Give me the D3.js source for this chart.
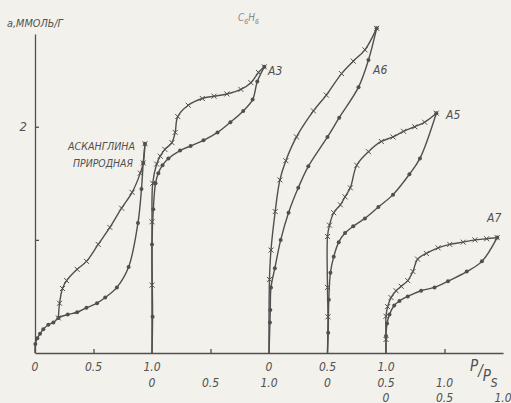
<!DOCTYPE html>
<html>
<head>
<meta charset="utf-8">
<script src="https://cdn.jsdelivr.net/npm/d3@7"></script>
<style>
  body { margin: 0; background: #f3f1ec; }
  svg text { font-family: "DejaVu Sans Condensed", "DejaVu Sans", sans-serif; font-style: italic; fill: #505050; }
</style>
</head>
<body>
<svg id="chart" width="511" height="403"></svg>
<script>
// benzene (C6H6) isotherms, a (mmol/g) vs p/ps
// each sample sits on its own p/ps axis, shifted along x
const samples = ['природная', 'A3', 'A6', 'A5', 'A7'];
const offsets = [0, 1, 2, 2.5, 3];
const tickRows = [0, 1, 0, 1, 2];
const xTickValues = [0, 0.5, 1];
const xTickText = ['0', '0.5', '1.0'];
const yTickValues = [1, 2];
const yTickText = ['', '2'];

// adsorption branch (dots)
const adsorption = [
  [[0, 0], [0.003, 0.08], [0.02, 0.13], [0.043, 0.17], [0.071, 0.21], [0.114, 0.25], [0.157, 0.27], [0.2, 0.31],
   [0.28, 0.34], [0.36, 0.36], [0.44, 0.40], [0.53, 0.44], [0.60, 0.49], [0.70, 0.58], [0.80, 0.76], [0.88, 1.15],
   [0.91, 1.45], [0.925, 1.68], [0.94, 1.85]],
  [[0, 0], [0.005, 0.32], [0.0, 0.96], [0.011, 1.27], [0.03, 1.50], [0.054, 1.59], [0.09, 1.66], [0.14, 1.72],
   [0.24, 1.79], [0.33, 1.83], [0.44, 1.88], [0.56, 1.95], [0.67, 2.04], [0.78, 2.14], [0.86, 2.24], [0.90, 2.40],
   [0.96, 2.53]],
  [[0, 0], [0.008, 0.27], [0.011, 0.38], [0.017, 0.58], [0.05, 0.75], [0.10, 1.0], [0.167, 1.24], [0.25, 1.46],
   [0.336, 1.65], [0.50, 1.91], [0.60, 2.08], [0.765, 2.35], [0.85, 2.59], [0.92, 2.87]],
  [[0, 0], [0.006, 0.18], [0.011, 0.47], [0.025, 0.71], [0.053, 0.85], [0.096, 0.98], [0.15, 1.06], [0.22, 1.12],
   [0.32, 1.19], [0.435, 1.29], [0.56, 1.40], [0.70, 1.58], [0.79, 1.72], [0.93, 2.12]],
  [[0, 0], [0, 0.15], [0.009, 0.26], [0.03, 0.34], [0.07, 0.42], [0.115, 0.46], [0.186, 0.50], [0.30, 0.55],
   [0.415, 0.58], [0.53, 0.635], [0.69, 0.72], [0.82, 0.81], [0.95, 1.02]]
];

// desorption branch (crosses)
const desorption = [
  [[0.94, 1.85], [0.925, 1.68], [0.90, 1.59], [0.83, 1.42], [0.74, 1.28], [0.64, 1.11], [0.54, 0.96], [0.44, 0.81],
   [0.36, 0.74], [0.27, 0.64], [0.235, 0.57], [0.21, 0.44], [0.2, 0.31]],
  [[0.96, 2.53], [0.91, 2.48], [0.845, 2.39], [0.76, 2.33], [0.64, 2.29], [0.53, 2.27], [0.43, 2.25], [0.31, 2.19],
   [0.22, 2.09], [0.198, 1.95], [0.17, 1.86], [0.11, 1.80], [0.07, 1.74], [0.04, 1.67], [0.006, 1.50], [0, 1.16],
   [0, 0.60], [0, 0]],
  [[0.92, 2.87], [0.82, 2.68], [0.72, 2.58], [0.62, 2.47], [0.49, 2.28], [0.38, 2.14], [0.235, 1.91], [0.144, 1.70],
   [0.093, 1.53], [0.053, 1.25], [0.017, 0.91], [0.004, 0.65], [0, 0]],
  [[0.93, 2.12], [0.83, 2.04], [0.746, 2.0], [0.65, 1.96], [0.56, 1.91], [0.46, 1.87], [0.35, 1.78], [0.25, 1.66],
   [0.195, 1.46], [0.15, 1.38], [0.11, 1.31], [0.053, 1.24], [0.017, 1.13], [0, 1.03], [0, 0.58], [0.004, 0.32], [0, 0]],
  [[0.95, 1.02], [0.86, 1.01], [0.76, 1.0], [0.66, 0.98], [0.545, 0.96], [0.445, 0.93], [0.345, 0.88], [0.27, 0.83],
   [0.23, 0.72], [0.186, 0.64], [0.13, 0.59], [0.086, 0.55], [0.043, 0.49], [0.014, 0.41], [0, 0.325], [0, 0.12], [0, 0]]
];

const ink = '#505050';
const svg = d3.select('#chart');

const x = d3.scaleLinear().domain([0, 4]).range([35, 503]);
const y = d3.scaleLinear().domain([0, 2.82]).range([353, 34]);

// axes
svg.append('g')
  .attr('transform', 'translate(0,' + y(0) + ')')
  .call(d3.axisBottom(x).tickValues([0.5, 1.5, 3.5]).tickSize(-4).tickSizeOuter(0).tickFormat(''))
  .call(g => g.selectAll('path,line').attr('stroke', ink).attr('stroke-width', 1.3));

svg.append('g')
  .attr('transform', 'translate(' + x(0) + ',0)')
  .call(d3.axisLeft(y).tickValues(yTickValues).tickSize(-4).tickSizeOuter(0).tickPadding(8)
    .tickFormat((d, i) => yTickText[i]))
  .call(g => g.selectAll('path,line').attr('stroke', ink).attr('stroke-width', 1.3))
  .call(g => g.selectAll('text').attr('fill', ink).style('font-size', '13px')
    .style('font-family', '"DejaVu Sans Condensed", sans-serif'));

// p/ps tick labels, one row per shifted axis
const rowY = [367, 383, 398];
samples.forEach((s, i) => {
  xTickValues.forEach((t, j) => {
    svg.append('text')
      .attr('x', x(offsets[i] + t))
      .attr('y', rowY[tickRows[i]])
      .attr('text-anchor', 'middle')
      .attr('dominant-baseline', 'middle')
      .style('font-size', '12px')
      .text(xTickText[j]);
  });
});

// curves
const line = d3.line()
  .x(d => d[0])
  .y(d => d[1])
  .curve(d3.curveCatmullRom.alpha(0.5));

samples.forEach((s, i) => {
  const toPx = p => [x(offsets[i] + p[0]), y(p[1])];
  const ads = adsorption[i].map(toPx);
  const des = desorption[i].map(toPx);

  svg.append('path').attr('d', line(ads))
    .attr('fill', 'none').attr('stroke', ink).attr('stroke-width', 1.4);
  svg.append('path').attr('d', line(des))
    .attr('fill', 'none').attr('stroke', ink).attr('stroke-width', 1.4);

  svg.append('g').selectAll('circle')
    .data(adsorption[i].filter(p => p[1] > 0.02))
    .join('circle')
    .attr('cx', d => x(offsets[i] + d[0]))
    .attr('cy', d => y(d[1]))
    .attr('r', 2)
    .attr('fill', ink);

  svg.append('g').selectAll('path')
    .data(desorption[i].filter(p => p[1] > 0.02))
    .join('path')
    .attr('transform', d => 'translate(' + x(offsets[i] + d[0]) + ',' + y(d[1]) + ')')
    .attr('d', 'M-2.5,-2.5L2.5,2.5M-2.5,2.5L2.5,-2.5')
    .attr('stroke', ink)
    .attr('stroke-width', 1);
});

// sample names
const nameX = [0, 268, 373, 446, 487];
const nameY = [0, 75, 74, 119, 222];
samples.forEach((s, i) => {
  if (i === 0) return;
  svg.append('text')
    .attr('x', nameX[i]).attr('y', nameY[i])
    .style('font-size', '12px')
    .text(s);
});
svg.append('text').attr('x', 135).attr('y', 150).attr('text-anchor', 'end')
  .attr('textLength', 67).attr('lengthAdjust', 'spacingAndGlyphs')
  .style('font-size', '11px').text('АСКАНГЛИНА');
svg.append('text').attr('x', 133).attr('y', 167).attr('text-anchor', 'end')
  .attr('textLength', 60).attr('lengthAdjust', 'spacingAndGlyphs')
  .style('font-size', '11px').text('ПРИРОДНАЯ');

// titles
svg.append('text').attr('x', 7).attr('y', 27)
  .attr('textLength', 56).attr('lengthAdjust', 'spacingAndGlyphs')
  .style('font-size', '10px').text('а,ММОЛЬ/Г');

const title = svg.append('text').attr('x', 238).attr('y', 21)
  .style('font-size', '10px').style('fill', '#888');
title.append('tspan').text('C');
title.append('tspan').attr('dy', 3).style('font-size', '7px').text('6');
title.append('tspan').attr('dy', -3).text('H');
title.append('tspan').attr('dy', 3).style('font-size', '7px').text('6');

const pp = svg.append('text').attr('x', 470).attr('y', 371).style('font-size', '15px');
pp.append('tspan').text('P');
pp.append('tspan').attr('dy', 5).text('/');
pp.append('tspan').attr('dy', 5).text('P');
pp.append('tspan').attr('dy', 6).style('font-size', '12px').text('S');
</script>
</body>
</html>
